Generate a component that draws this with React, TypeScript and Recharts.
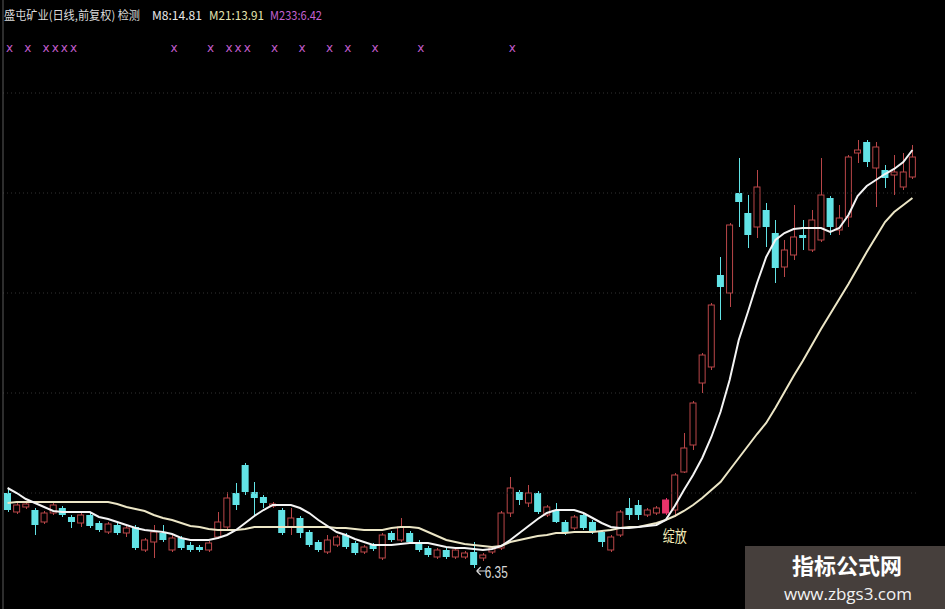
import { ComposedChart, Bar, Line, XAxis, YAxis, ReferenceLine, ReferenceDot } from "recharts"

// daily bars (price axis hidden)
const opens = [
    7.85, 7.47, 7.57, 7.51, 7.27, 7.45, 7.55, 7.37, 7.25, 7.41,
    7.25, 7.07, 7.21, 7.05, 7.17, 6.71, 6.87, 7.05, 6.71, 6.95,
    6.81, 6.77, 6.71, 6.97, 7.17, 7.85, 8.41, 7.87, 7.77, 7.59,
    7.51, 7.17, 7.35, 7.07, 6.87, 6.67, 6.81, 7.01, 6.85, 6.67,
    6.81, 6.55, 7.05, 6.91, 7.05, 6.87, 6.75, 6.57, 6.71, 6.57,
    6.57, 6.67, 6.55, 6.67, 6.75, 7.45, 7.87, 7.65, 7.85, 7.41,
    7.51, 7.27, 7.15, 7.41, 7.27, 7.07, 6.71, 7.01, 7.55, 7.61,
    7.41, 7.45, 7.45, 7.51, 8.27, 8.81, 10.05, 10.37, 12.21, 11.85,
    13.85, 13.45, 13.17, 13.51, 13.05, 12.37, 12.61, 13.01, 12.71, 12.91,
    13.75, 13.11, 13.37, 14.65, 14.87, 14.35, 14.31, 14.21, 13.97, 14.17,
]
const closes = [
    7.51, 7.61, 7.63, 7.21, 7.45, 7.61, 7.41, 7.27, 7.41, 7.19,
    7.11, 7.23, 7.05, 7.15, 6.75, 6.91, 7.07, 6.91, 6.95, 6.75,
    6.71, 6.71, 6.85, 7.27, 7.75, 7.61, 7.87, 7.75, 7.65, 7.63,
    7.05, 7.35, 7.05, 6.81, 6.71, 6.91, 6.97, 6.77, 6.65, 6.77,
    6.73, 7.01, 6.91, 7.17, 6.87, 6.71, 6.61, 6.71, 6.57, 6.71,
    6.65, 6.41, 6.61, 6.75, 7.45, 7.95, 7.71, 7.85, 7.47, 7.57,
    7.27, 7.05, 7.37, 7.15, 7.07, 6.87, 6.97, 7.47, 7.41, 7.41,
    7.51, 7.55, 7.71, 8.21, 8.75, 9.65, 10.61, 11.61, 11.97, 13.21,
    13.67, 13.01, 13.97, 13.17, 12.35, 12.71, 12.97, 12.95, 13.31, 13.81,
    13.17, 13.35, 14.57, 14.71, 14.47, 14.77, 14.15, 14.27, 14.27, 14.57,
]
const highs = [
    7.93, 7.65, 7.69, 7.55, 7.49, 7.69, 7.59, 7.41, 7.45, 7.45,
    7.29, 7.27, 7.25, 7.21, 7.21, 6.95, 7.21, 7.21, 7.01, 6.99,
    6.87, 6.81, 6.89, 7.47, 7.87, 8.05, 8.45, 8.07, 7.81, 7.67,
    7.55, 7.55, 7.39, 7.11, 6.91, 7.01, 7.01, 7.05, 6.89, 6.81,
    6.85, 7.05, 7.09, 7.35, 7.09, 6.91, 6.79, 6.75, 6.75, 6.75,
    6.69, 6.87, 6.65, 6.79, 7.49, 8.17, 7.91, 8.01, 7.89, 7.61,
    7.65, 7.31, 7.41, 7.45, 7.31, 7.11, 7.01, 7.51, 7.75, 7.71,
    7.55, 7.59, 7.75, 8.25, 9.05, 9.69, 10.65, 11.65, 12.57, 13.25,
    14.55, 13.81, 14.31, 13.65, 13.31, 12.91, 13.61, 13.31, 13.51, 14.55,
    13.79, 13.61, 14.61, 14.91, 14.91, 14.87, 14.41, 14.61, 14.65, 14.81,
]
const lows = [
    7.47, 7.43, 7.53, 7.01, 7.23, 7.41, 7.37, 7.15, 7.17, 7.15,
    7.07, 7.03, 7.01, 6.97, 6.71, 6.67, 6.55, 6.87, 6.67, 6.71,
    6.67, 6.67, 6.67, 6.93, 7.13, 7.51, 7.81, 7.41, 7.55, 7.55,
    7.01, 7.01, 6.95, 6.77, 6.67, 6.63, 6.77, 6.73, 6.61, 6.63,
    6.69, 6.51, 6.87, 6.87, 6.83, 6.67, 6.57, 6.53, 6.53, 6.53,
    6.53, 6.35, 6.49, 6.63, 6.71, 7.37, 7.61, 7.57, 7.43, 7.37,
    7.25, 7.01, 7.11, 7.11, 7.03, 6.77, 6.67, 6.97, 7.31, 7.31,
    7.37, 7.41, 7.41, 7.37, 8.25, 8.71, 9.85, 10.31, 11.31, 11.57,
    13.17, 12.75, 12.95, 12.77, 12.05, 12.17, 12.51, 12.71, 12.67, 12.87,
    13.01, 13.01, 13.17, 14.45, 14.37, 13.57, 13.95, 13.81, 13.91, 14.13,
]
const m8 = [
    7.95, 7.85, 7.73, 7.65, 7.57, 7.49, 7.47, 7.47, 7.47, 7.47,
    7.37, 7.33, 7.27, 7.21, 7.15, 7.11, 7.09, 7.07, 7.03, 6.95,
    6.91, 6.91, 6.91, 6.95, 7.01, 7.11, 7.25, 7.39, 7.51, 7.61,
    7.61, 7.61, 7.55, 7.45, 7.31, 7.19, 7.07, 7.01, 6.93, 6.87,
    6.81, 6.81, 6.81, 6.83, 6.85, 6.85, 6.85, 6.81, 6.77, 6.75,
    6.75, 6.73, 6.71, 6.73, 6.79, 6.91, 7.05, 7.19, 7.33, 7.45,
    7.51, 7.51, 7.51, 7.45, 7.35, 7.25, 7.17, 7.15, 7.15, 7.17,
    7.19, 7.21, 7.31, 7.59, 7.91, 8.21, 8.55, 8.97, 9.47, 10.11,
    10.91, 11.47, 12.05, 12.57, 12.91, 13.05, 13.13, 13.15, 13.15, 13.15,
    13.07, 13.15, 13.41, 13.79, 13.99, 14.11, 14.23, 14.33, 14.47, 14.71,
]
const m21 = [
    7.65, 7.67, 7.67, 7.67, 7.67, 7.67, 7.67, 7.67, 7.67, 7.67,
    7.67, 7.67, 7.63, 7.57, 7.53, 7.49, 7.41, 7.35, 7.31, 7.25,
    7.19, 7.17, 7.13, 7.11, 7.11, 7.11, 7.13, 7.17, 7.17, 7.17,
    7.17, 7.17, 7.17, 7.17, 7.17, 7.17, 7.15, 7.15, 7.13, 7.11,
    7.11, 7.11, 7.15, 7.17, 7.17, 7.15, 7.07, 6.99, 6.91, 6.87,
    6.83, 6.81, 6.79, 6.77, 6.79, 6.87, 6.91, 6.95, 6.99, 7.01,
    7.05, 7.05, 7.07, 7.07, 7.07, 7.09, 7.11, 7.15, 7.17, 7.17,
    7.21, 7.25, 7.31, 7.39, 7.49, 7.61, 7.75, 7.91, 8.07, 8.31,
    8.55, 8.79, 9.03, 9.25, 9.55, 9.87, 10.19, 10.49, 10.81, 11.13,
    11.43, 11.73, 12.03, 12.35, 12.67, 12.97, 13.27, 13.47, 13.61, 13.75,
]

// bars flagged by the "检测" formula (the row of x marks)
const signalBars = [0, 2, 4, 5, 6, 7, 18, 22, 24, 25, 26, 29, 32, 35, 37, 40, 45, 55]
const signalLevel = 16.75
const solidUpBars = [72]
const gridLevels = [15.85, 13.85, 11.85, 9.85, 7.85]
const lowBar = 51
const lowText = "6.35"
const bloomBar = 73
const bloomText = "绽放"

const data = opens.map((open, i) => ({
    name: String(i + 1),
    open,
    close: closes[i],
    high: highs[i],
    low: lows[i],
    m8: m8[i],
    m21: m21[i],
    sig: signalBars.includes(i) ? signalLevel : null,
    solid: solidUpBars.includes(i),
}))

const UP = "#b94648"
const DOWN = "#62e3e6"

function Candle(props: any) {
    const { x, y, width, height, payload } = props
    if (!payload) return null
    const { open, close, high, low, solid } = payload
    const top = Math.min(y, y + height)
    const span = Math.abs(height)
    const toY = (v: number) => top + ((high - v) / (high - low)) * span
    const cx = Math.round(x + width / 2) + 0.5
    const bTop = toY(Math.max(open, close))
    const bBot = toY(Math.min(open, close))
    const bh = Math.max(1.5, bBot - bTop)
    if (close >= open) {
        const color = solid ? "#e8336a" : UP
        return (
            <g>
                <line x1={cx} x2={cx} y1={top} y2={bTop} stroke={color} strokeWidth={1} />
                <line x1={cx} x2={cx} y1={bTop + bh} y2={top + span} stroke={color} strokeWidth={1} />
                <rect x={x + 0.5} y={bTop} width={width - 1} height={bh} fill={solid ? color : "#000"} stroke={color} strokeWidth={1} />
            </g>
        )
    }
    return (
        <g>
            <line x1={cx} x2={cx} y1={top} y2={top + span} stroke={DOWN} strokeWidth={1} />
            <rect x={x} y={bTop} width={width} height={bh} fill={DOWN} />
        </g>
    )
}

function SignalMark(props: any) {
    const { cx, cy, value, index } = props
    if (value == null || cx == null || cy == null) return <g key={`s-${index}`} />
    return (
        <text key={`s-${index}`} x={cx + 2} y={cy + 4} textAnchor="middle" fontSize={12} fill="#c25ccc" fontFamily="DejaVu Sans">
            x
        </text>
    )
}

function LowMark(props: any) {
    const { cx, cy } = props
    return (
        <g>
            <path d={`M${cx + 3},${cy + 3} L${cx + 12},${cy + 3} M${cx + 3},${cy + 3} L${cx + 7},${cy - 1} M${cx + 3},${cy + 3} L${cx + 7},${cy + 7}`} stroke="#d8d8d8" strokeWidth={1.2} fill="none" />
            <text x={cx + 11} y={cy + 10} fontSize={16} fill="#d8d8d8" textLength={23} lengthAdjust="spacingAndGlyphs" fontFamily="Liberation Sans">
                {lowText}
            </text>
        </g>
    )
}

function BloomMark(props: any) {
    const { cx, cy } = props
    return (
        <text x={cx} y={cy + 25} textAnchor="middle" fontSize={16} fill="#f3ebb8" textLength={24} lengthAdjust="spacingAndGlyphs" fontFamily="Noto Sans CJK SC">
            {bloomText}
        </text>
    )
}

const titleParts = [
    { text: "盛屯矿业(日线,前复权) 检测", x: 4, w: 136, color: "#dcdcdc" },
    { text: "M8:14.81", x: 152, w: 50, color: "#e8e8e8" },
    { text: "M21:13.91", x: 209, w: 55, color: "#e4e4b0" },
    { text: "M233:6.42", x: 270, w: 52, color: "#c462d2" },
]

export default function App() {
    return (
        <div
            style={{
                position: "absolute",
                left: 0,
                top: 0,
                width: 945,
                height: 609,
                background: "#000",
                overflow: "hidden",
                fontFamily: "Noto Sans CJK SC, sans-serif",
            }}
        >
            <ComposedChart width={945} height={609} data={data} margin={{ top: 0, right: 28, bottom: 0, left: 0 }} barSize={7}>
                <XAxis dataKey="name" hide />
                <YAxis domain={[5.53, 17.71]} allowDataOverflow width={3} tick={false} tickLine={false} axisLine={{ stroke: "#5a5a5a" }} />
                {gridLevels.map((v) => (
                    <ReferenceLine key={v} y={v} stroke="#333333" strokeDasharray="1 3" />
                ))}
                <Bar dataKey={(d: any) => [d.low, d.high]} shape={Candle} isAnimationActive={false} />
                <Line dataKey="m21" stroke="#ece6c6" strokeWidth={2} dot={false} isAnimationActive={false} />
                <Line dataKey="m8" stroke="#f4f4f4" strokeWidth={2} dot={false} isAnimationActive={false} />
                <Line dataKey="sig" stroke="none" dot={SignalMark} activeDot={false} isAnimationActive={false} />
                <ReferenceDot x={data[lowBar].name} y={lows[lowBar]} r={0} shape={LowMark} />
                <ReferenceDot x={data[bloomBar].name} y={lows[bloomBar]} r={0} shape={BloomMark} />
            </ComposedChart>
            <svg width={945} height={609} style={{ position: "absolute", left: 0, top: 0, pointerEvents: "none" }}>
                <text y={20} fontSize={12}>
                    {titleParts.map((p) => (
                        <tspan key={p.text} x={p.x} fill={p.color} textLength={p.w} lengthAdjust="spacingAndGlyphs">
                            {p.text}
                        </tspan>
                    ))}
                </text>
                <rect x={745} y={546} width={200} height={63} fill="#463f3c" />
                <text x={847} y={574} textAnchor="middle" fontSize={22} fontWeight="bold" fill="#ffffff" fontFamily="Noto Sans CJK SC">
                    指标公式网
                </text>
                <text x={848} y={600} textAnchor="middle" fontSize={17} fill="#f2f2f2" fontFamily="Open Sans">
                    www.zbgs3.com
                </text>
            </svg>
        </div>
    )
}
